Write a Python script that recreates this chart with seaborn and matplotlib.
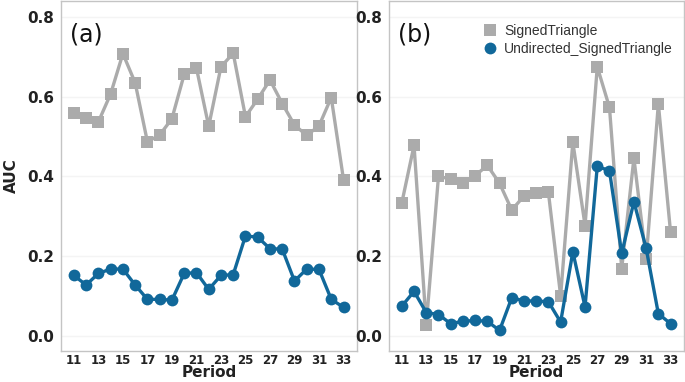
import numpy as np
import pandas as pd
import matplotlib
matplotlib.use("Agg")
import matplotlib.pyplot as plt
import seaborn as sns

periods = list(range(11, 34))
xticks = list(range(11, 34, 2))
yticks = [0.0, 0.2, 0.4, 0.6, 0.8]

a_signed = [0.559, 0.546, 0.537, 0.607, 0.708, 0.635, 0.487, 0.504, 0.545, 0.656,
            0.672, 0.526, 0.675, 0.709, 0.550, 0.594, 0.642, 0.583, 0.529, 0.503,
            0.527, 0.598, 0.392]
a_undirected = [0.152, 0.128, 0.157, 0.168, 0.168, 0.128, 0.092, 0.092, 0.090, 0.157,
                0.159, 0.117, 0.152, 0.154, 0.251, 0.248, 0.219, 0.218, 0.138, 0.168,
                0.167, 0.092, 0.072]
b_signed = [0.334, 0.478, 0.028, 0.400, 0.394, 0.383, 0.402, 0.428, 0.383, 0.316,
            0.351, 0.358, 0.360, 0.101, 0.486, 0.277, 0.675, 0.573, 0.169, 0.446,
            0.192, 0.582, 0.260]
b_undirected = [0.075, 0.112, 0.059, 0.054, 0.031, 0.037, 0.039, 0.037, 0.014, 0.096,
                0.088, 0.088, 0.086, 0.035, 0.211, 0.073, 0.426, 0.414, 0.207, 0.337,
                0.220, 0.056, 0.031]

series = ["SignedTriangle", "Undirected_SignedTriangle"]
palette = {"SignedTriangle": "#ABABAB", "Undirected_SignedTriangle": "#11689A"}
markers = {"SignedTriangle": "s", "Undirected_SignedTriangle": "o"}

def make_df(s1, s2):
    return pd.DataFrame({
        "Period": periods * 2,
        "AUC": s1 + s2,
        "Series": [series[0]] * len(periods) + [series[1]] * len(periods),
    })

sns.set_theme(style="white")
plt.rcParams["font.family"] = ["DejaVu Sans"]

fig = plt.figure(figsize=(6.85, 3.82), dpi=100)
W, H = 685, 382
ax_a = fig.add_axes([61 / W, 1 - 351 / H, (357 - 61) / W, 350 / H])
ax_b = fig.add_axes([389 / W, 1 - 351 / H, (684 - 389) / W, 350 / H])

for ax, df, lab in [(ax_a, make_df(a_signed, a_undirected), "(a)"),
                    (ax_b, make_df(b_signed, b_undirected), "(b)")]:
    sns.lineplot(data=df, x="Period", y="AUC", hue="Series", style="Series",
                 markers=markers, dashes=False, palette=palette, ax=ax,
                 linewidth=2.4, markersize=8.5, markeredgewidth=0, legend=(lab == "(b)"))
    ax.set_xlim(9.95, 34.1)
    ax.set_ylim(-0.0375, 0.84)
    ax.set_xticks(xticks)
    ax.set_yticks(yticks)
    ax.set_yticklabels([f"{v:.1f}" for v in yticks], fontsize=11, fontweight="bold", color="#222222")
    ax.set_xticklabels([str(v) for v in xticks], fontsize=8.5, fontweight="bold", color="#222222")
    ax.tick_params(axis="x", length=0, pad=2)
    ax.tick_params(axis="y", length=0, pad=5)
    ax.grid(axis="y", color="#F4F4F4", linewidth=1)
    ax.set_axisbelow(True)
    for sp in ax.spines.values():
        sp.set_color("#C4C4C4")
        sp.set_linewidth(1)
    ax.set_xlabel("Period", fontsize=11, fontweight="bold", color="#222222", labelpad=-1)
    ax.text(0.03, 0.905, lab, transform=ax.transAxes, fontsize=17, va="center", ha="left",
            color="#111111")

ax_a.set_ylabel("AUC", fontsize=11, fontweight="bold", color="#222222", labelpad=6)
ax_b.set_ylabel("")

leg = ax_b.legend(loc="upper right", bbox_to_anchor=(1.0, 0.965), frameon=False,
                  fontsize=10, handlelength=1.0, handletextpad=0.5, labelspacing=0.25,
                  borderaxespad=0.4)
for h in leg.legend_handles:
    h.set_linestyle("None")
for t in leg.get_texts():
    t.set_family(["Liberation Sans"])
    t.set_color("#333333")

fig.savefig("out.png", dpi=100)
